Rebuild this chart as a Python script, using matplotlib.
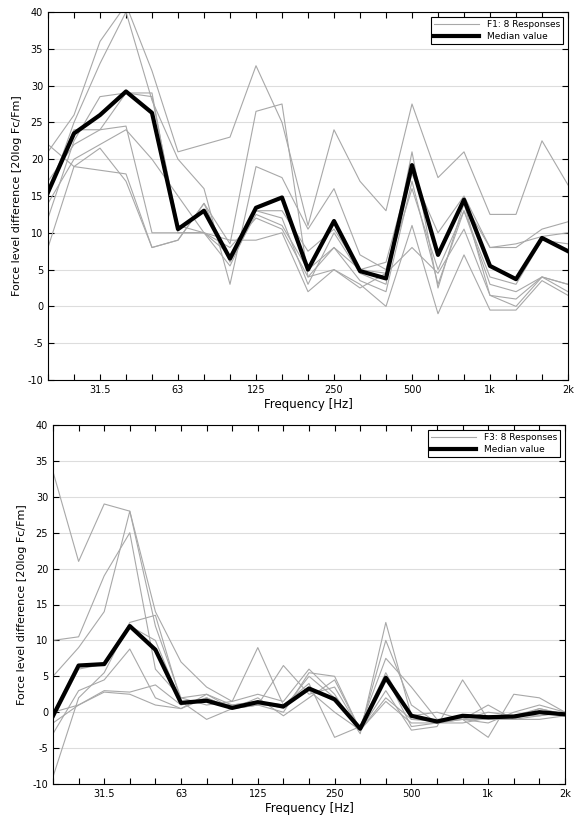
import numpy as np
import matplotlib.pyplot as plt

plt.rcParams['axes.unicode_minus'] = False

bands = ['20', '25', '31.5', '40', '50', '63', '80', '100', '125', '160', '200',
         '250', '315', '400', '500', '630', '800', '1k', '1.25k', '1.6k', '2k']
shown = ['31.5', '63', '125', '250', '500', '1k', '2k']

f1_responses = [
    [21, 26, 36, 41, 32, 21, 22, 23, 32.7, 25, 11, 24, 17, 13, 27.5, 17.5, 21, 12.5, 12.5, 22.5, 16.5],
    [15, 25, 33, 40, 28, 20, 16, 3, 19, 17.5, 10.5, 16, 7, 5, 18, 10, 15, 8, 8, 10.5, 11.5],
    [12, 22.5, 28.5, 29, 28.5, 11, 10, 9, 9, 10, 2, 5, 3, 0, 11, -1, 7, -0.5, -0.5, 3.5, 1.5],
    [8, 19, 21.5, 17, 8, 9, 14, 8.5, 26.5, 27.5, 4, 5, 2.5, 4.5, 8, 4.5, 10.5, 1.5, 1, 4, 3],
    [16, 24, 24, 29, 29, 10, 10, 5.5, 13, 12, 3, 10, 4.5, 3, 21, 2.5, 14, 1.5, 0, 4, 2],
    [17, 22, 24, 24.5, 10, 10, 10, 7, 13, 13, 7.5, 10.5, 5, 6, 19, 7, 14, 8, 8.5, 9.5, 10],
    [22, 19, 18.5, 18, 8, 9, 14, 6, 12.5, 11, 5, 8, 5, 4.5, 16, 5, 13, 4, 3, 9, 8.5],
    [14, 20, 22, 24, 20, 15, 10, 8, 12, 10.5, 4, 8, 3.5, 2, 17, 3, 13, 3, 2, 4, 3],
]
f1_median = [15.5, 23.5, 26, 29.2, 26.3, 10.5, 13, 6.5, 13.4, 14.8, 5, 11.6, 4.8, 3.8,
             19.2, 7, 14.5, 5.5, 3.7, 9.3, 7.5]

f3_responses = [
    [33.5, 21, 29, 28, 14, 7, 3.5, 1.5, 2.5, 1.5, 6, 2.5, -3, 12.5, -0.5, 0, -1, 0, -0.5, 0, -0.5],
    [10, 10.5, 19, 25, 6, 2, 2.5, 0.5, 1, 0, 5.5, 5, -2.5, 10, 1, -1.5, -1, -1.5, 0, 1, 0],
    [5, 9, 14, 28, 12, 2, 1, 1.5, 9, 1, 4, -3.5, -2, 7.5, 3.5, -1, -1, -3.5, 2.5, 2, 0],
    [-9, 2, 5.5, 12.5, 13.5, 1.5, -1, 0.5, 1, 6.5, 2.5, 3.5, -2.5, 3, -2.5, -2, 4.5, -1, -1, -1, -0.5],
    [-1.5, 1, 3, 2.8, 3.8, 1, 2, 0.5, 2, -0.5, 2, 4.5, -2.5, 2, -1, -1, -1, 1, -1, 0.5, -0.3],
    [-3, 3, 4.5, 8.8, 2, 0.5, 2.5, 1, 1.5, 0.5, 5, 2, -2, 5, -2, -1.5, -1, -1, -0.5, -0.5, 0],
    [-1, 6, 6.7, 12, 10, 1.3, 1.5, 1, 1.5, 1, 3.5, 1.5, -2, 5.5, -1, -1.3, -0.5, -0.5, -0.5, 0.5, -0.3],
    [0, 1, 2.8, 2.5, 1, 0.5, 2, 0.5, 1, 1, 3, 0, -2.5, 1.5, -1.5, -1.5, -1.5, -0.8, -1, -0.5, 0],
]
f3_median = [-0.5, 6.5, 6.7, 12, 8.7, 1.3, 1.6, 0.6, 1.4, 0.8, 3.3, 1.8, -2.3, 4.8,
             -0.5, -1.3, -0.5, -0.7, -0.6, 0, -0.3]

x = np.arange(len(bands))
fig = plt.figure(figsize=(5.75, 8.23), dpi=100)
W, H = 575, 823
boxes = [(48, 12, 568, 380), (53, 425, 565, 784)]
panels = [(f1_responses, f1_median, 'F1: 8 Responses'),
          (f3_responses, f3_median, 'F3: 8 Responses')]

for (l, t, r, b), (resp, med, lab) in zip(boxes, panels):
    ax = fig.add_axes([l / W, 1 - b / H, (r - l) / W, (b - t) / H])
    for i, y in enumerate(resp):
        ax.plot(x, y, color='#a8a8a8', lw=0.8, label=lab if i == 0 else None)
    ax.plot(x, med, color='black', lw=3, label='Median value')
    ax.set_xlim(0, 20)
    ax.set_ylim(-10, 40)
    ax.set_yticks(range(-10, 41, 5))
    ax.set_xticks(x)
    ax.set_xticklabels([s if s in shown else '' for s in bands])
    ax.tick_params(direction='in', top=True, right=True, labelsize=7, length=4)
    ax.grid(axis='y', color='#dddddd', lw=0.8)
    ax.set_axisbelow(True)
    ax.set_xlabel('Frequency [Hz]', fontsize=8.5, labelpad=2)
    ax.set_ylabel('Force level difference [20log Fc/Fm]', fontsize=8)
    leg = ax.legend(loc='upper right', fontsize=6.5, fancybox=False, framealpha=1,
                    edgecolor='black', handlelength=5, borderpad=0.4, labelspacing=0.3)
    leg.get_frame().set_linewidth(0.8)

fig.savefig('out.png')
